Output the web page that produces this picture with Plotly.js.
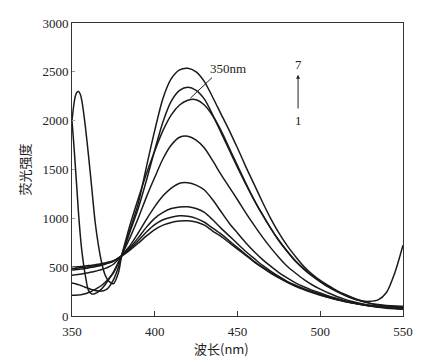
<!DOCTYPE html>
<html>
<head>
<meta charset="utf-8">
<script src="https://cdn.plot.ly/plotly-3.0.1.min.js"></script>
<style>html,body{margin:0;padding:0;background:#fff;}#chart{width:431px;height:364px;}</style>
</head>
<body>
<div id="chart"></div>
<script>
// wavelength (nm)
var wavelength = [350,351,352,353,354,355,356,358,360,362,364,366,368,370,372,375,378,380,385,390,395,400,405,410,415,420,425,430,435,440,445,450,455,460,465,470,475,480,485,490,495,500,505,510,515,520,525,530,535,540,545,550];

var curve1 = [2000,2150,2250,2290,2298,2270,2200,1950,1640,1300,960,720,540,420,360,330,440,610,880,1150,1530,1900,2230,2430,2520,2537,2500,2400,2240,2070,1900,1720,1530,1350,1170,1000,850,720,610,510,430,365,310,260,220,185,155,132,118,108,102,100];
var curve2 = [2000,1780,1540,1290,1040,830,660,420,260,225,230,250,280,320,370,450,550,620,860,1100,1390,1700,1990,2200,2310,2343,2310,2220,2060,1880,1700,1520,1350,1190,1040,900,770,660,560,480,410,350,295,250,210,175,150,128,113,102,97,95];
var curve3 = [339,335,330,325,320,315,308,295,282,270,262,256,255,265,290,370,500,620,930,1200,1460,1690,1900,2060,2160,2210,2215,2160,2050,1900,1720,1540,1360,1190,1040,900,775,665,565,485,415,355,300,255,215,180,155,150,165,240,440,725];
var curve4 = [212,212,213,214,215,217,220,228,240,255,272,292,315,345,380,440,540,620,800,1000,1220,1420,1610,1750,1830,1840,1800,1720,1590,1450,1320,1190,1055,930,810,700,600,510,440,375,320,275,235,200,170,145,125,110,100,92,87,85];
var curve5 = [418,420,422,424,426,428,431,437,443,450,458,467,477,488,502,530,580,620,720,850,990,1120,1230,1310,1360,1365,1340,1290,1190,1070,950,850,750,660,580,510,445,390,340,300,265,235,205,180,155,135,118,102,90,80,74,70];
var curve6 = [470,472,474,476,478,480,482,487,492,498,505,512,520,530,541,560,595,620,700,800,910,1000,1060,1100,1117,1118,1100,1060,985,900,820,740,660,590,520,460,405,355,315,280,250,222,195,172,152,135,120,108,98,90,83,78];
var curve7 = [486,487,489,490,492,494,496,500,505,510,516,522,529,537,546,562,590,615,685,770,860,935,985,1012,1026,1022,1000,960,900,840,770,700,630,560,500,445,395,350,310,275,245,218,192,170,150,133,118,105,95,87,80,75];
var curve8 = [500,501,502,503,505,506,508,512,516,520,525,531,537,544,552,566,590,612,675,745,820,885,930,958,972,975,962,930,870,815,750,685,620,555,495,440,390,345,305,270,240,213,188,166,146,130,115,103,93,86,80,76];

var series = [curve1, curve2, curve3, curve4, curve5, curve6, curve7, curve8];

var xTicks = [350,400,450,500,550];
var yTicks = [0,500,1000,1500,2000,2500,3000];

var serif = '"Liberation Serif", "DejaVu Serif", serif';
var cjk = '"Noto Sans CJK SC", "Noto Sans CJK JP", sans-serif';

var traces = series.map(function(s){
  return {x: wavelength, y: s, type:'scatter', mode:'lines',
    line:{color:'#1a1a1a', width:1.5, shape:'spline', smoothing:0.8},
    hoverinfo:'skip', showlegend:false};
});

var layout = {
  width:431, height:364,
  margin:{l:72, r:28, t:23, b:48},
  paper_bgcolor:'#fff', plot_bgcolor:'#fff',
  showlegend:false,
  xaxis:{range:[350,550], tickvals:xTicks, ticktext:xTicks.map(String),
    ticks:'inside', ticklen:5, tickwidth:1, tickcolor:'#333',
    showline:true, linecolor:'#333', linewidth:1, mirror:true,
    showgrid:false, zeroline:false, ticklabelstandoff:3,
    tickfont:{family:serif, size:13, color:'#222'}},
  yaxis:{range:[0,3000], tickvals:yTicks, ticktext:yTicks.map(String),
    ticks:'inside', ticklen:3, tickwidth:1, tickcolor:'#999',
    showline:true, linecolor:'#333', linewidth:1, mirror:true,
    showgrid:false, zeroline:false,
    tickfont:{family:serif, size:13, color:'#222'},
    title:{text:'荧光强度', font:{family:cjk, size:13, color:'#222'}, standoff:8}},
  annotations:[
    {x:0.453, y:-0.112, xref:'paper', yref:'paper', text:'波长(nm)', showarrow:false,
      xanchor:'center', yanchor:'middle', font:{family:cjk, size:13, color:'#222'}},
    {x:432, y:2531, xref:'x', yref:'y', text:'350nm', showarrow:false, xanchor:'left', yanchor:'middle',
      font:{family:serif, size:13, color:'#222'}},
    {x:421.5, y:2230, ax:435.5, ay:2455, xref:'x', yref:'y', axref:'x', ayref:'y',
      text:'', showarrow:true, arrowhead:0, arrowwidth:1, arrowcolor:'#222'},
    {x:486.6, y:2575, xref:'x', yref:'y', text:'7', showarrow:false,
      font:{family:serif, size:13, color:'#222'}},
    {x:486.6, y:2000, xref:'x', yref:'y', text:'1', showarrow:false,
      font:{family:serif, size:13, color:'#222'}},
    {x:486.6, y:2470, ax:486.6, ay:2110, xref:'x', yref:'y', axref:'x', ayref:'y',
      text:'', showarrow:true, arrowhead:2, arrowsize:0.8, arrowwidth:1, arrowcolor:'#222'}
  ]
};

Plotly.newPlot('chart', traces, layout, {staticPlot:true, displayModeBar:false});
</script>
</body>
</html>
